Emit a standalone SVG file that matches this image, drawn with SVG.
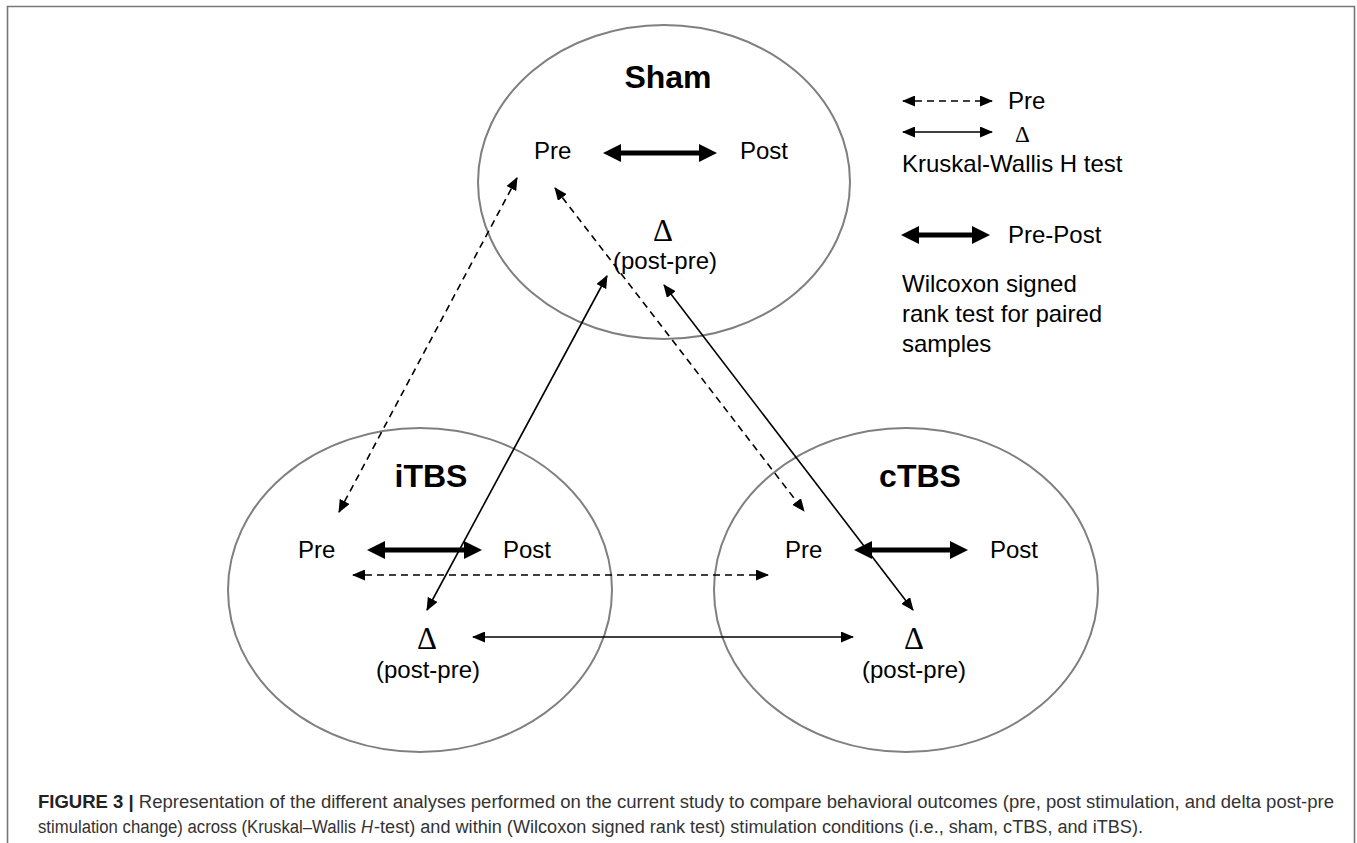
<svg xmlns="http://www.w3.org/2000/svg" width="1357" height="843" viewBox="0 0 1357 843">
<defs>
<style>
.ell{fill:none;stroke:#7f7f7f;stroke-width:2}
.lbl{font-family:"Liberation Sans",Arial,sans-serif;font-size:24px;fill:#000}
.ttl{font-family:"Liberation Sans",Arial,sans-serif;font-size:32px;font-weight:bold;fill:#000;text-anchor:middle}
.dlt{font-family:"Liberation Serif","Times New Roman",serif;font-size:31px;fill:#000;text-anchor:middle}
.thin{stroke:#000;stroke-width:1.6;fill:none;marker-start:url(#ah);marker-end:url(#ah)}
.dash{stroke-dasharray:7 5}
.thick{stroke:#000;stroke-width:5;fill:none;marker-start:url(#ahb);marker-end:url(#ahb)}
.cap{font-family:"Liberation Sans",Arial,sans-serif;font-size:18px;fill:#333}
</style>
<marker id="ah" viewBox="0 0 13 11" markerWidth="13" markerHeight="11" refX="12" refY="5.5" orient="auto-start-reverse" markerUnits="userSpaceOnUse">
<path d="M0,0 L13,5.5 L0,11 Z" fill="#000"/>
</marker>
<marker id="ahb" viewBox="0 0 18 18" markerWidth="18" markerHeight="18" refX="10" refY="9" orient="auto-start-reverse" markerUnits="userSpaceOnUse">
<path d="M0,0 L18,9 L0,18 Z" fill="#000"/>
</marker>
</defs>
<rect width="1357" height="843" fill="#fff"/>
<path d="M7.5,843 V6.5 H1354.5 V843" fill="none" stroke="#777" stroke-width="1.6"/>

<g id="sham">
<ellipse class="ell" cx="664" cy="182" rx="186" ry="157"/>
<text class="ttl" x="668" y="88">Sham</text>
<text class="lbl" x="534" y="159">Pre</text>
<text class="lbl" x="740" y="159">Post</text>
<text class="dlt" x="663" y="241">Δ</text>
<text class="lbl" x="665" y="269" text-anchor="middle">(post-pre)</text>
</g>

<g id="itbs">
<ellipse class="ell" cx="420" cy="590" rx="192" ry="162"/>
<text class="ttl" x="431" y="487">iTBS</text>
<text class="lbl" x="298" y="558">Pre</text>
<text class="lbl" x="503" y="558">Post</text>
<text class="dlt" x="427" y="649">Δ</text>
<text class="lbl" x="428" y="678" text-anchor="middle">(post-pre)</text>
</g>

<g id="ctbs">
<ellipse class="ell" cx="906" cy="590" rx="192" ry="162"/>
<text class="ttl" x="920" y="487">cTBS</text>
<text class="lbl" x="785" y="558">Pre</text>
<text class="lbl" x="990" y="558">Post</text>
<text class="dlt" x="914" y="649">Δ</text>
<text class="lbl" x="914" y="678" text-anchor="middle">(post-pre)</text>
</g>

<g id="legend">
<line class="thin dash" x1="903" y1="101" x2="992" y2="101"/>
<text class="lbl" x="1008" y="109">Pre</text>
<line class="thin" x1="903" y1="132" x2="992" y2="132"/>
<text x="1015" y="142" font-family="Liberation Serif,serif" font-size="23">Δ</text>
<text class="lbl" x="902" y="172">Kruskal-Wallis H test</text>
<line class="thick" x1="909" y1="235" x2="982" y2="235"/>
<text class="lbl" x="1008" y="243">Pre-Post</text>
<text class="lbl" x="902" y="292">Wilcoxon signed</text>
<text class="lbl" x="902" y="322">rank test for paired</text>
<text class="lbl" x="902" y="352">samples</text>
</g>

<g id="connectors">
<line class="thick" x1="611" y1="153" x2="709" y2="153"/>
<line class="thick" x1="375" y1="550" x2="474" y2="550"/>
<line class="thick" x1="862" y1="550" x2="960" y2="550"/>
<line class="thin dash" x1="517" y1="178" x2="339" y2="512"/>
<line class="thin dash" x1="555" y1="188" x2="804" y2="511"/>
<line class="thin" x1="607" y1="276" x2="427" y2="610"/>
<line class="thin" x1="664" y1="285" x2="913" y2="610"/>
<line class="thin dash" x1="353" y1="575" x2="768" y2="575"/>
<line class="thin" x1="473" y1="637" x2="853" y2="637"/>
</g>

<g id="caption">
<text class="cap" x="38" y="808" textLength="1296" lengthAdjust="spacingAndGlyphs"><tspan font-weight="bold" fill="#222">FIGURE 3 |</tspan> Representation of the different analyses performed on the current study to compare behavioral outcomes (pre, post stimulation, and delta post-pre</text>
<text class="cap" x="38" y="833" textLength="318" lengthAdjust="spacingAndGlyphs">stimulation change) across (Kruskal–Wallis</text>
<text class="cap" x="361" y="833" font-style="italic" textLength="12" lengthAdjust="spacingAndGlyphs">H</text>
<text class="cap" x="374" y="833" textLength="769" lengthAdjust="spacingAndGlyphs">-test) and within (Wilcoxon signed rank test) stimulation conditions (i.e., sham, cTBS, and iTBS).</text>
</g>
</svg>
